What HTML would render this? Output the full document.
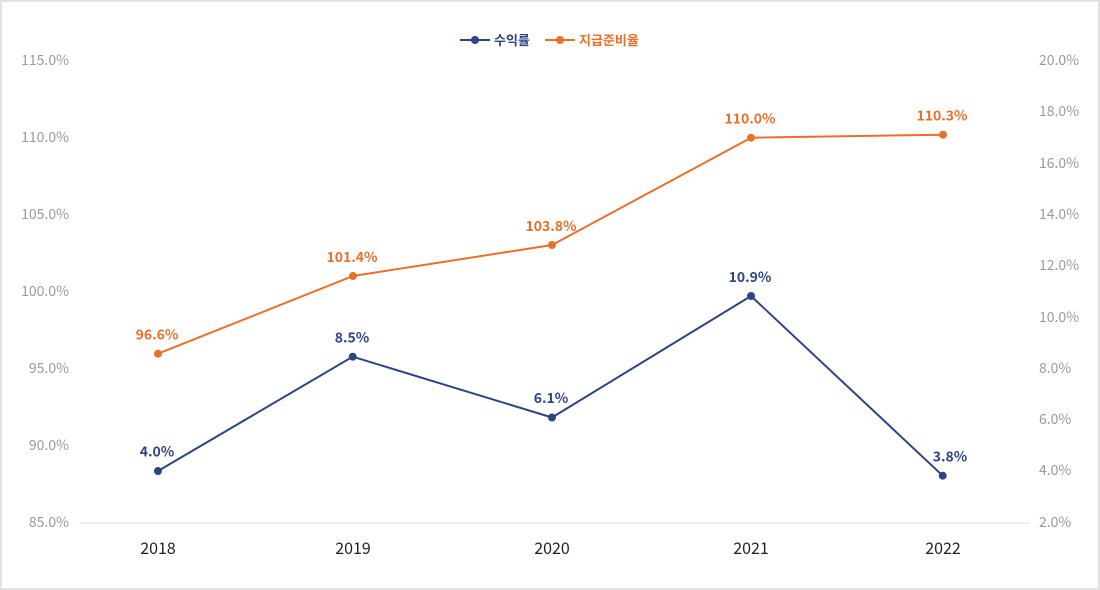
<!DOCTYPE html>
<html><head><meta charset="utf-8"><style>
html,body{margin:0;padding:0;background:#fff;}
svg{display:block;font-family:"Noto Sans CJK KR","Liberation Sans",sans-serif;}
</style></head><body>
<svg width="1100" height="590" viewBox="0 0 1100 590" xmlns="http://www.w3.org/2000/svg">
<rect x="1" y="1" width="1098" height="588" fill="#fff" stroke="#e2e2e2" stroke-width="2"/>
<!-- legend -->
<line x1="460" y1="40" x2="490" y2="40" stroke="#2e4485" stroke-width="2"/>
<circle cx="475" cy="40" r="4" fill="#2e4485"/>
<text x="494" y="45" font-size="13" font-weight="bold" fill="#2e4485">수익률</text>
<line x1="545" y1="40" x2="575" y2="40" stroke="#e8702a" stroke-width="2"/>
<circle cx="560" cy="40" r="4" fill="#e8702a"/>
<text x="579" y="45" font-size="13" font-weight="bold" fill="#e8702a">지급준비율</text>
<!-- left axis -->
<g font-size="14" fill="#999" text-anchor="end">
<text x="69" y="65">115.0%</text>
<text x="69" y="142">110.0%</text>
<text x="69" y="219">105.0%</text>
<text x="69" y="296">100.0%</text>
<text x="69" y="373">95.0%</text>
<text x="69" y="450">90.0%</text>
<text x="69" y="527">85.0%</text>
</g>
<!-- right axis -->
<g font-size="14" fill="#999" text-anchor="start">
<text x="1039" y="65">20.0%</text>
<text x="1039" y="116">18.0%</text>
<text x="1039" y="168">16.0%</text>
<text x="1039" y="219">14.0%</text>
<text x="1039" y="270">12.0%</text>
<text x="1039" y="322">10.0%</text>
<text x="1039" y="373">8.0%</text>
<text x="1039" y="424">6.0%</text>
<text x="1039" y="475">4.0%</text>
<text x="1039" y="527">2.0%</text>
</g>
<line x1="79" y1="523" x2="1030" y2="523" stroke="#dcdcdc" stroke-width="1"/>
<!-- x labels -->
<g font-size="16" fill="#222" text-anchor="middle">
<text x="158" y="554">2018</text>
<text x="353" y="554">2019</text>
<text x="552" y="554">2020</text>
<text x="751" y="554">2021</text>
<text x="943" y="554">2022</text>
</g>
<!-- orange series -->
<polyline points="158,353.7 353,276 552,245 751,137.7 943,134.7" fill="none" stroke="#e8702a" stroke-width="2"/>
<g fill="#e8702a">
<circle cx="158" cy="353.7" r="4"/><circle cx="353" cy="276" r="4"/><circle cx="552" cy="245" r="4"/><circle cx="751" cy="137.7" r="4"/><circle cx="943" cy="134.7" r="4"/>
</g>
<g font-size="14" font-weight="bold" fill="#e8702a" text-anchor="middle">
<text x="157" y="339.5">96.6%</text>
<text x="352" y="262">101.4%</text>
<text x="551" y="231">103.8%</text>
<text x="750" y="123.5">110.0%</text>
<text x="942" y="120.5">110.3%</text>
</g>
<!-- blue series -->
<polyline points="158,471 352.7,356.7 552,417.5 751,296 942.7,475.7" fill="none" stroke="#2e4485" stroke-width="2"/>
<g fill="#2e4485">
<circle cx="158" cy="471" r="4"/><circle cx="352.7" cy="356.7" r="4"/><circle cx="552" cy="417.5" r="4"/><circle cx="751" cy="296" r="4"/><circle cx="942.7" cy="475.7" r="4"/>
</g>
<g font-size="14" font-weight="bold" fill="#2e4485" text-anchor="middle">
<text x="157" y="456.5">4.0%</text>
<text x="352" y="342.5">8.5%</text>
<text x="551" y="403">6.1%</text>
<text x="750" y="282">10.9%</text>
<text x="950" y="461.5">3.8%</text>
</g>
</svg>
</body></html>
